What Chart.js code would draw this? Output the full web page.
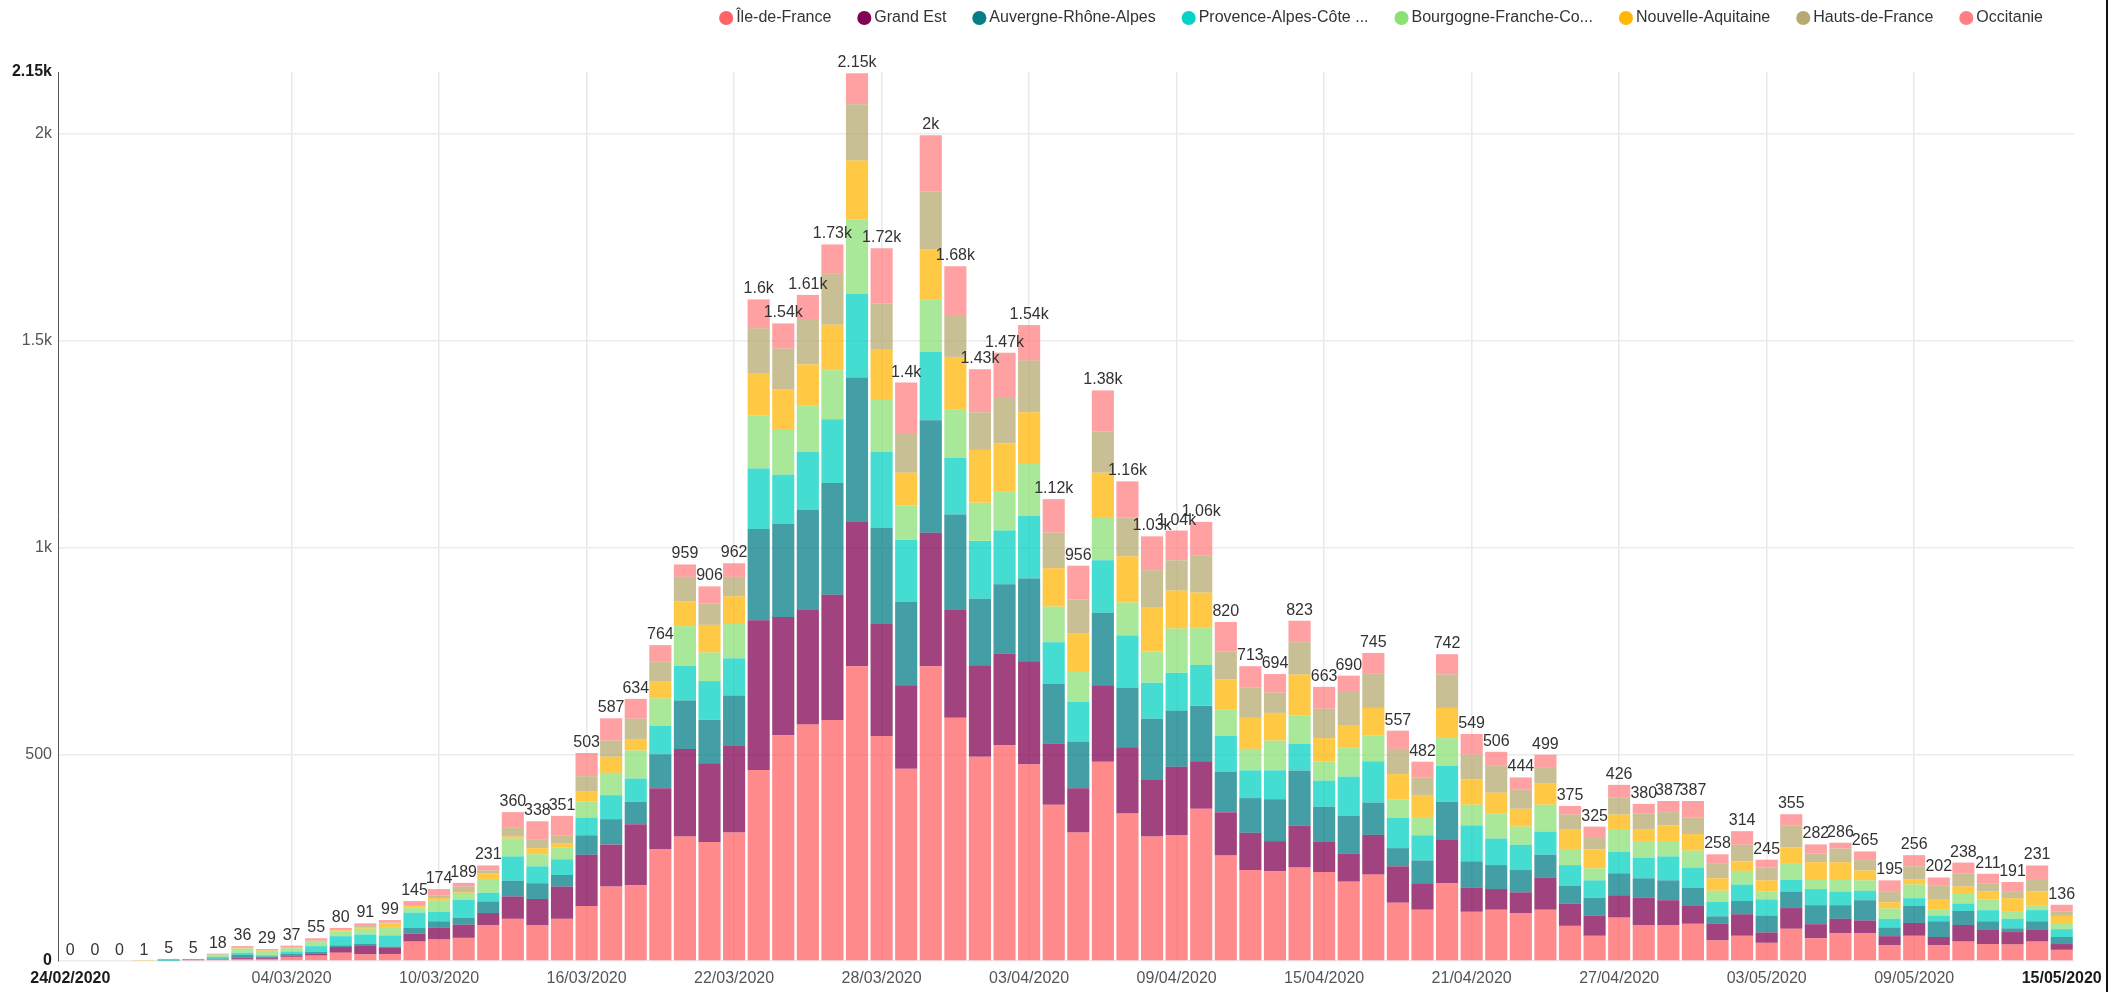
<!DOCTYPE html>
<html>
<head>
<meta charset="utf-8">
<script src="https://cdn.jsdelivr.net/npm/chart.js@4.4.1/dist/chart.umd.min.js"></script>
<style>
html,body{margin:0;padding:0;background:#fff;overflow:hidden;width:2116px;height:992px;}
#wrap{position:absolute;left:0;top:-21px;width:2116px;height:1013px;}
#edge{position:absolute;left:2106px;top:0;width:2px;height:992px;background:#111;}
</style>
</head>
<body>
<div id="wrap"><canvas id="c" width="2116" height="1013"></canvas></div>
<div id="edge"></div>
<script>
const categories = [
 '24/02/2020','25/02/2020','26/02/2020','27/02/2020','28/02/2020','29/02/2020',
 '01/03/2020','02/03/2020','03/03/2020','04/03/2020','05/03/2020','06/03/2020','07/03/2020','08/03/2020','09/03/2020','10/03/2020',
 '11/03/2020','12/03/2020','13/03/2020','14/03/2020','15/03/2020','16/03/2020','17/03/2020','18/03/2020','19/03/2020','20/03/2020',
 '21/03/2020','22/03/2020','23/03/2020','24/03/2020','25/03/2020','26/03/2020','27/03/2020','28/03/2020','29/03/2020','30/03/2020','31/03/2020',
 '01/04/2020','02/04/2020','03/04/2020','04/04/2020','05/04/2020','06/04/2020','07/04/2020','08/04/2020','09/04/2020','10/04/2020',
 '11/04/2020','12/04/2020','13/04/2020','14/04/2020','15/04/2020','16/04/2020','17/04/2020','18/04/2020','19/04/2020','20/04/2020',
 '21/04/2020','22/04/2020','23/04/2020','24/04/2020','25/04/2020','26/04/2020','27/04/2020','28/04/2020','29/04/2020','30/04/2020',
 '01/05/2020','02/05/2020','03/05/2020','04/05/2020','05/05/2020','06/05/2020','07/05/2020','08/05/2020','09/05/2020','10/05/2020',
 '11/05/2020','12/05/2020','13/05/2020','14/05/2020','15/05/2020'
];
const xTickLabels = ['24/02/2020','04/03/2020','10/03/2020','16/03/2020','22/03/2020','28/03/2020','03/04/2020','09/04/2020','15/04/2020','21/04/2020','27/04/2020','03/05/2020','09/05/2020','15/05/2020'];
const yTickValues = [0, 500, 1000, 1500, 2000, 2150];

const regions = ['Île-de-France','Grand Est','Auvergne-Rhône-Alpes','Provence-Alpes-Côte d\'Azur','Bourgogne-Franche-Comté','Nouvelle-Aquitaine','Hauts-de-France','Occitanie'];
const legendText = ['Île-de-France','Grand Est','Auvergne-Rhône-Alpes','Provence-Alpes-Côte ...','Bourgogne-Franche-Co...','Nouvelle-Aquitaine','Hauts-de-France','Occitanie'];
const legendColors = ['#FF6366','#800453','#067E87','#07D2C3','#8BE076','#FFB607','#B7AA70','#FF8084'];

const ileDeFrance = [0,0,0,0,0,2,3,5,5,10, 13,20,16,17,47,52,56,87,102,87, 102,133,180,183,271,301,288,311,462,546, 572,583,713,544,465,713,588,494,522,476, 378,311,482,357,301,305,368,255,220,217, 226,215,192,209,141,124,188,119,124,116, 124,85,61,105,87,87,90,50,61,44, 78,55,67,67,38,61,38,47,41,40, 47,27];
const grandEst = [0,0,0,0,0,1,1,3,2,3, 4,14,22,16,19,29,32,29,54,63, 78,124,102,148,147,212,190,209,362,286, 277,303,349,271,202,323,261,221,221,249, 148,107,185,160,137,165,115,105,90,73, 101,73,68,96,88,64,105,58,50,50, 78,54,49,54,66,60,43,40,52,25, 50,34,35,31,22,31,20,40,34,30, 28,14];
const auvergneRhoneAlpes = [0,0,0,0,1,1,2,7,4,4, 5,4,4,2,14,15,16,28,38,38, 28,47,61,54,82,117,105,122,221,225, 242,270,349,232,201,272,231,161,168,200, 144,113,175,144,148,135,134,98,84,101, 134,85,91,78,44,55,92,64,58,54, 55,43,43,53,47,48,44,18,32,41, 40,46,33,49,21,41,38,34,21,9, 21,17];
const provenceAlpesCoteAzur = [0,0,0,0,4,0,4,5,3,6, 14,22,22,27,37,23,44,21,59,41, 38,43,58,56,69,84,94,90,146,119, 140,154,203,184,151,165,137,140,130,151, 101,96,127,126,87,92,99,87,67,70, 64,63,95,100,73,61,87,87,64,61, 56,50,42,52,50,58,49,35,40,39, 28,39,33,23,21,19,14,18,27,23, 27,19];
const bourgogneFrancheComte = [0,0,0,0,0,0,5,10,10,8, 10,12,14,20,13,27,14,31,43,29, 28,39,54,68,66,96,69,83,129,108, 113,119,180,128,83,126,116,92,94,126, 86,72,105,80,76,107,90,64,52,72, 69,47,71,62,45,42,67,50,61,44, 65,39,29,53,40,37,41,27,33,19, 39,22,28,25,25,33,14,23,26,17, 12,15];
const nouvelleAquitaine = [0,0,0,1,0,0,0,1,1,1, 2,2,4,9,3,6,4,16,5,15, 10,25,39,28,42,60,67,67,100,98, 99,110,142,119,79,122,128,128,117,125, 93,94,107,112,107,92,85,72,75,67, 99,56,52,67,61,54,73,61,50,43, 51,48,46,37,29,38,40,30,23,27, 40,43,43,24,15,12,26,18,19,33, 33,17];
const hautsDeFrance = [0,0,0,0,0,0,1,1,1,1, 1,1,3,2,2,6,14,7,21,20, 20,36,39,49,48,59,52,47,110,99, 107,124,136,112,96,140,101,91,112,125, 86,81,100,94,89,73,89,68,73,49, 78,71,84,84,61,44,81,60,65,47, 40,35,30,41,38,32,40,35,40,31, 53,21,33,25,27,32,32,32,19,17, 28,11];
const occitanie = [0,0,0,0,0,1,2,4,3,4, 6,5,6,6,10,16,9,12,38,45, 47,56,54,48,39,30,41,33,70,61, 61,70,75,134,122,136,118,104,107,86, 81,82,99,87,82,72,82,71,52,45, 52,53,37,49,44,38,49,50,34,29, 30,21,25,31,23,27,40,23,33,19, 27,22,14,21,26,27,20,26,24,22, 35,16];

const series = [ileDeFrance, grandEst, auvergneRhoneAlpes, provenceAlpesCoteAzur, bourgogneFrancheComte, nouvelleAquitaine, hautsDeFrance, occitanie];
const FONT = '"Liberation Sans", Arial, sans-serif';

function withAlpha(hex, a) {
  const n = parseInt(hex.slice(1), 16);
  return 'rgba(' + ((n >> 16) & 255) + ',' + ((n >> 8) & 255) + ',' + (n & 255) + ',' + a + ')';
}
function fmtK(v) {
  if (v >= 1000) return String(parseFloat((v / 1000).toPrecision(3))) + 'k';
  return String(v);
}

const datasets = regions.map((r, k) => ({
  label: r,
  data: series[k],
  backgroundColor: withAlpha(legendColors[k], 0.75),
  borderWidth: 0,
  barPercentage: 0.9,
  categoryPercentage: 1.0,
  stack: 's'
}));

const totalLabels = {
  id: 'totalLabels',
  afterDatasetsDraw(chart) {
    const ctx = chart.ctx;
    const ds = chart.data.datasets;
    const topMeta = chart.getDatasetMeta(ds.length - 1);
    ctx.save();
    ctx.font = '16px ' + FONT;
    ctx.fillStyle = '#333333';
    ctx.textAlign = 'center';
    ctx.textBaseline = 'alphabetic';
    for (let i = 0; i < chart.data.labels.length; i++) {
      let t = 0;
      ds.forEach(d => { t += d.data[i]; });
      const el = topMeta.data[i];
      ctx.fillText(fmtK(t), el.x, el.y - 6);
    }
    ctx.restore();
  }
};

const legendGap = {
  id: 'legendGap',
  afterInit(chart) {
    const lg = chart.legend;
    if (!lg) return;
    const orig = lg.fit;
    lg.fit = function () { orig.call(this); this.height += 36; };
  }
};

const lastIdx = categories.length - 1;

new Chart(document.getElementById('c'), {
  type: 'bar',
  data: { labels: categories, datasets: datasets },
  plugins: [totalLabels, legendGap],
  options: {
    responsive: false,
    devicePixelRatio: 1,
    animation: false,
    layout: { padding: { left: 0, right: 42, top: 0, bottom: 0 } },
    plugins: {
      tooltip: { enabled: false },
      title: { display: false },
      legend: {
        position: 'top',
        align: 'end',
        labels: {
          usePointStyle: true,
          pointStyle: 'circle',
          boxWidth: 4,
          boxHeight: 10,
          padding: 31,
          color: '#333333',
          font: { family: FONT, size: 16 },
          generateLabels: () => legendText.map((t, k) => ({
            text: t,
            fillStyle: legendColors[k],
            strokeStyle: legendColors[k],
            lineWidth: 0,
            pointStyle: 'circle',
            hidden: false,
            datasetIndex: k,
            fontColor: '#333333'
          }))
        }
      }
    },
    scales: {
      x: {
        stacked: true,
        offset: true,
        afterFit: (s) => { s.height = 31; },
        border: { display: false },
        grid: {
          offset: false,
          drawTicks: false,
          lineWidth: 1.5,
          color: (c) => {
            const i = c.index;
            return (i > 0 && i < lastIdx && xTickLabels.includes(categories[i])) ? '#e9e9e9' : 'rgba(0,0,0,0)';
          }
        },
        ticks: {
          autoSkip: false,
          maxRotation: 0,
          minRotation: 0,
          padding: 8,
          color: (c) => (c.index === 0 || c.index === lastIdx) ? '#1a1a1a' : '#555555',
          font: (c) => ({ family: FONT, size: 16, weight: (c.index === 0 || c.index === lastIdx) ? 'bold' : 'normal' }),
          callback: function (v, i) { return xTickLabels.includes(categories[i]) ? categories[i] : ''; }
        }
      },
      y: {
        stacked: true,
        min: 0,
        max: 2150,
        afterBuildTicks: (s) => { s.ticks = yTickValues.map(v => ({ value: v })); },
        afterFit: (s) => { s.width = 58; },
        border: { display: true, color: '#555555', width: 1 },
        grid: {
          drawTicks: false,
          lineWidth: 1.5,
          color: (c) => (c.tick && c.tick.value === 2150) ? 'rgba(0,0,0,0)' : '#ececec'
        },
        ticks: {
          padding: 6,
          color: (c) => (c.tick && (c.tick.value === 0 || c.tick.value === 2150)) ? '#1a1a1a' : '#555555',
          font: (c) => ({ family: FONT, size: 16, weight: (c.tick && (c.tick.value === 0 || c.tick.value === 2150)) ? 'bold' : 'normal' }),
          callback: (v) => fmtK(v)
        }
      }
    }
  }
});
</script>
</body>
</html>
